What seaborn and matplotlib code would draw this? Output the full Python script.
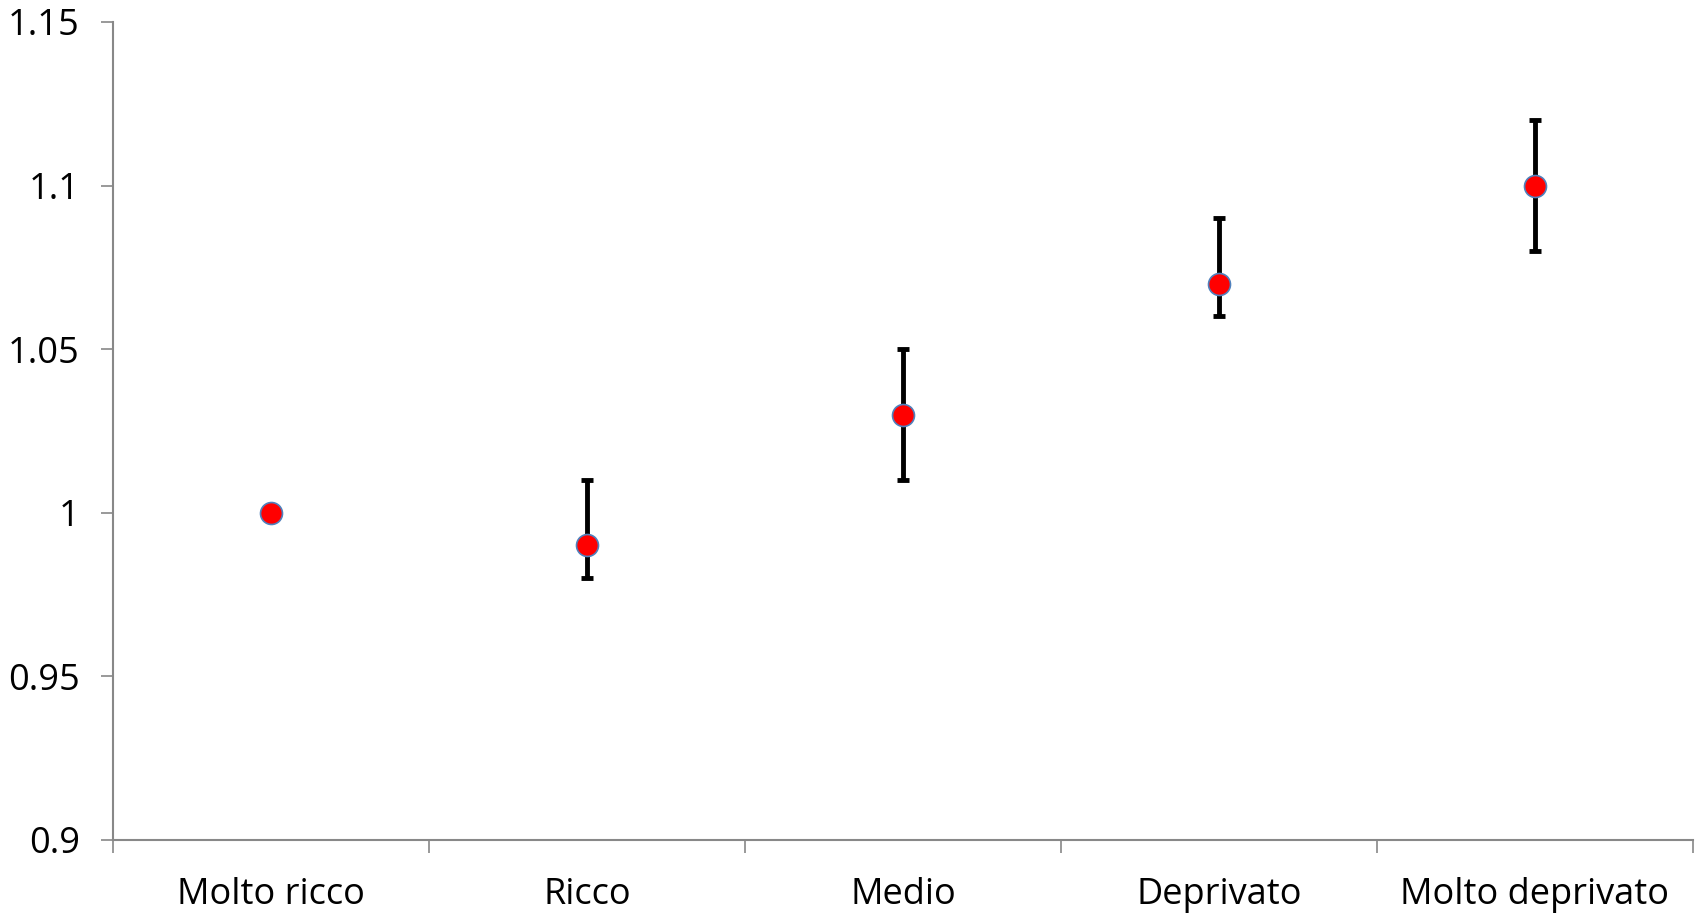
import matplotlib
matplotlib.use("Agg")
import matplotlib.pyplot as plt
import pandas as pd
import seaborn as sns

# Data
categories = ["Molto ricco", "Ricco", "Medio", "Deprivato", "Molto deprivato"]
estimate = [1.00, 0.99, 1.03, 1.07, 1.10]
lower = [1.00, 0.98, 1.01, 1.06, 1.08]
upper = [1.00, 1.01, 1.05, 1.09, 1.12]
y_ticks = [0.9, 0.95, 1, 1.05, 1.1, 1.15]
y_tick_labels = ["0.9", "0.95", "1", "1.05", "1.1", "1.15"]

df = pd.DataFrame({"cat": categories, "est": estimate, "lo": lower, "hi": upper})
df["pos"] = range(len(df))

sns.set_style("white")
plt.rcParams["font.family"] = ["Open Sans", "DejaVu Sans"]

fig = plt.figure(figsize=(16.98, 9.16), dpi=100)
ax = fig.add_axes([0.0666, 0.083, 0.9304, 0.893])

# error bars (skip the reference category with zero width)
has_err = df[df["hi"] > df["lo"]]
ax.errorbar(has_err["pos"], has_err["est"],
            yerr=[has_err["est"] - has_err["lo"], has_err["hi"] - has_err["est"]],
            fmt="none", ecolor="black", elinewidth=3.5, capsize=4.5, capthick=3.5, zorder=2)

sns.scatterplot(data=df, x="pos", y="est", ax=ax, s=250, color="#ff0000",
                edgecolor="#4f81bd", linewidth=1.2, zorder=3, legend=False)

ax.set_xlim(-0.5, len(categories) - 0.5)
ax.set_ylim(0.9, 1.15)
ax.set_yticks(y_ticks)
ax.set_yticklabels(y_tick_labels, fontsize=26, color="black")

# Excel style: tick marks between categories, labels centered
ax.set_xticks([i - 0.5 for i in range(len(categories) + 1)])
ax.set_xticklabels([])
ax.set_xticks(list(range(len(categories))), minor=True)
ax.set_xticklabels(categories, minor=True, fontsize=26, color="black")
ax.tick_params(axis="x", which="minor", bottom=True, length=0, pad=27)
ax.tick_params(axis="x", which="major", bottom=True, length=9, width=1.2,
               color="#888888", direction="out")
ax.tick_params(axis="y", left=True, length=9, width=1.2, color="#888888",
               direction="out", pad=15)
ax.set_xlabel("")
ax.set_ylabel("")

for side in ["top", "right"]:
    ax.spines[side].set_visible(False)
for side in ["left", "bottom"]:
    ax.spines[side].set_color("#888888")
    ax.spines[side].set_linewidth(1.5)

fig.savefig("out.png", dpi=100)
